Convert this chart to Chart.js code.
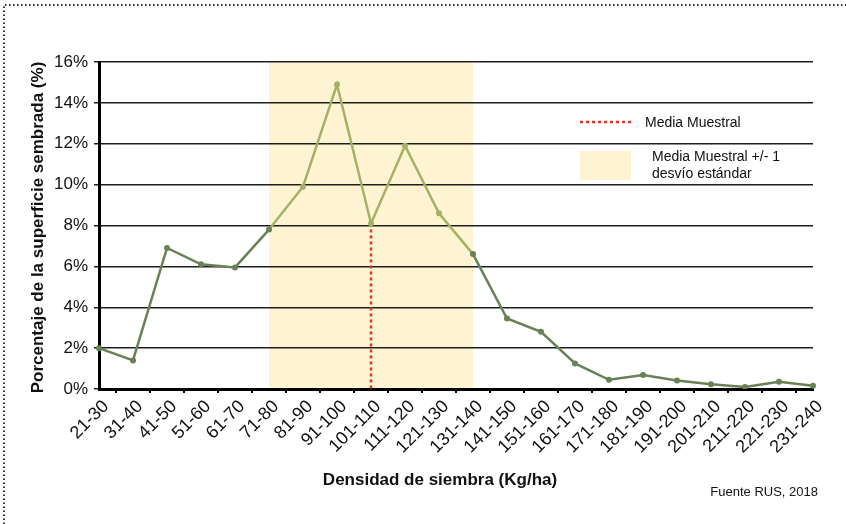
<!DOCTYPE html>
<html>
<head>
<meta charset="utf-8">
<script src="https://cdn.jsdelivr.net/npm/chart.js@4.4.1/dist/chart.umd.min.js"></script>
<style>
html, body { margin: 0; padding: 0; background: #fff; }
#wrap { width: 846px; height: 524px; position: relative; }
</style>
</head>
<body>
<div id="wrap"><canvas id="densidadChart" width="846" height="524"></canvas></div>
<script>
const rangos = ['21-30', '31-40', '41-50', '51-60', '61-70', '71-80', '81-90', '91-100',
    '101-110', '111-120', '121-130', '131-140', '141-150', '151-160', '161-170', '171-180',
    '181-190', '191-200', '201-210', '211-220', '221-230', '231-240'];
const porcentajes = [2.0, 1.4, 6.9, 6.1, 5.95, 7.8, 9.9, 14.9, 8.1, 11.9, 8.6, 6.6,
    3.45, 2.8, 1.25, 0.45, 0.68, 0.42, 0.23, 0.1, 0.36, 0.16];
const yTicks = [0, 2, 4, 6, 8, 10, 12, 14, 16];
const mediaIndex = 8;
const bandaDesde = 5;
const bandaHasta = 11;

const verdeOscuro = '#6a8055';
const verdeClaro = '#a2b266';
const amarillo = '#fff4d2';
const rojo = '#e0352a';
const fuente = "'Liberation Sans', Arial, sans-serif";

const decoracion = {
    id: 'decoracion',
    beforeDraw(chart) {
        const { ctx, chartArea, scales: { x } } = chart;
        ctx.save();
        // marco punteado
        ctx.strokeStyle = '#333';
        ctx.lineWidth = 2;
        ctx.setLineDash([1.5, 2.5]);
        ctx.beginPath();
        ctx.moveTo(4, 524);
        ctx.lineTo(4, 5);
        ctx.lineTo(846, 5);
        ctx.stroke();
        ctx.setLineDash([]);
        // banda media +/- 1 desvío
        const x0 = x.getPixelForValue(bandaDesde);
        const x1 = x.getPixelForValue(bandaHasta);
        ctx.fillStyle = amarillo;
        ctx.fillRect(x0, chartArea.top, x1 - x0, chartArea.bottom - chartArea.top);
        ctx.restore();
    },
    beforeDatasetsDraw(chart) {
        const { ctx, scales: { x, y } } = chart;
        const px = x.getPixelForValue(mediaIndex);
        ctx.save();
        ctx.strokeStyle = rojo;
        ctx.lineWidth = 2.5;
        ctx.setLineDash([3, 3]);
        ctx.beginPath();
        ctx.moveTo(px, y.getPixelForValue(porcentajes[mediaIndex]));
        ctx.lineTo(px, y.getPixelForValue(0));
        ctx.stroke();
        ctx.restore();
    },
    afterDraw(chart) {
        const { ctx, chartArea } = chart;
        ctx.save();
        ctx.fillStyle = '#111';
        ctx.textBaseline = 'middle';

        // títulos de ejes
        ctx.font = 'bold 17px ' + fuente;
        ctx.textAlign = 'center';
        ctx.fillText('Densidad de siembra (Kg/ha)', 440, 480);
        ctx.save();
        ctx.translate(38, (chartArea.top + chartArea.bottom) / 2 + 2);
        ctx.rotate(-Math.PI / 2);
        ctx.fillText('Porcentaje de la superficie sembrada (%)', 0, 0);
        ctx.restore();

        // fuente
        ctx.font = '13px ' + fuente;
        ctx.textAlign = 'right';
        ctx.fillText('Fuente RUS, 2018', 818, 492);

        // leyenda
        ctx.strokeStyle = rojo;
        ctx.lineWidth = 2.5;
        ctx.setLineDash([3, 3]);
        ctx.beginPath();
        ctx.moveTo(580, 122);
        ctx.lineTo(634, 122);
        ctx.stroke();
        ctx.setLineDash([]);
        ctx.fillStyle = amarillo;
        ctx.fillRect(580, 151, 51, 29);
        ctx.fillStyle = '#111';
        ctx.font = '14px ' + fuente;
        ctx.textAlign = 'left';
        ctx.fillText('Media Muestral', 645, 123);
        ctx.fillText('Media Muestral +/- 1', 652, 157);
        ctx.fillText('desvío estándar', 652, 174);
        ctx.restore();
    }
};

const enBanda = (i) => i >= bandaDesde + 1 && i <= bandaHasta - 1;

new Chart(document.getElementById('densidadChart'), {
    type: 'line',
    data: {
        labels: rangos,
        datasets: [{
            label: 'Porcentaje',
            data: porcentajes,
            borderWidth: 2.5,
            tension: 0,
            pointRadius: 3,
            pointHoverRadius: 3,
            pointBorderWidth: 0,
            pointBackgroundColor: porcentajes.map((v, i) => enBanda(i) ? verdeClaro : verdeOscuro),
            borderColor: verdeOscuro,
            segment: {
                borderColor: ctx => (ctx.p0DataIndex >= bandaDesde && ctx.p1DataIndex <= bandaHasta) ? verdeClaro : verdeOscuro
            }
        }]
    },
    options: {
        responsive: false,
        animation: false,
        layout: { padding: { left: 0, top: 62, right: 33, bottom: 0 } },
        plugins: {
            legend: { display: false },
            tooltip: { enabled: false }
        },
        scales: {
            x: {
                offset: false,
                border: { display: true, color: '#000', width: 3 },
                grid: {
                    offset: true,
                    drawOnChartArea: false,
                    drawTicks: true,
                    tickLength: 4,
                    color: '#000',
                    lineWidth: 2
                },
                ticks: {
                    autoSkip: false,
                    minRotation: 45,
                    maxRotation: 45,
                    padding: 3,
                    labelOffset: 7,
                    color: '#111',
                    font: { family: fuente, size: 18 }
                },
                afterFit(scale) { scale.height = 524 - 389; }
            },
            y: {
                min: 0,
                max: 16,
                afterBuildTicks(scale) { scale.ticks = yTicks.map(v => ({ value: v })); },
                border: { display: true, color: '#000', width: 3 },
                grid: {
                    color: '#1e1e1e',
                    lineWidth: 1.5,
                    drawTicks: true,
                    tickLength: 5
                },
                ticks: {
                    padding: 6,
                    color: '#111',
                    font: { family: fuente, size: 17 },
                    callback: v => v + '%'
                },
                afterFit(scale) { scale.width = 99; }
            }
        }
    },
    plugins: [decoracion]
});
</script>
</body>
</html>
